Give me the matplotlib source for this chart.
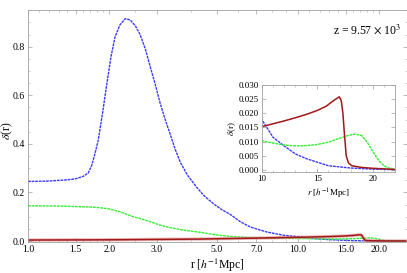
import numpy as np
import matplotlib
matplotlib.use('Agg')
import matplotlib.pyplot as plt
from matplotlib.ticker import FixedLocator, NullFormatter, MultipleLocator

plt.rcParams['font.family'] = ['Liberation Serif', 'DejaVu Serif']
plt.rcParams['mathtext.fontset'] = 'stix'

# blue profile
r_blue = [1.0, 1.2, 1.4, 1.5, 1.6, 1.67, 1.72, 1.77, 1.82, 1.89, 1.96, 2.03,
          2.1, 2.19, 2.29, 2.39, 2.5, 2.6, 2.72, 2.83, 2.95, 3.08, 3.22, 3.36,
          3.5, 3.66, 3.9, 4.22, 4.5, 4.84, 5.2, 5.6, 6.1, 6.64, 7.2, 7.67, 8.8,
          10.0, 11.0, 12.0, 13.0, 14.0, 16.0, 18.0, 20.0, 22.0, 25.0]
d_blue = [0.245, 0.247, 0.252, 0.256, 0.266, 0.28, 0.31, 0.36, 0.415, 0.53,
          0.65, 0.76, 0.84, 0.89, 0.915, 0.91, 0.885, 0.85, 0.79, 0.72, 0.65,
          0.57, 0.50, 0.44, 0.38, 0.325, 0.27, 0.22, 0.185, 0.155, 0.13, 0.11,
          0.08, 0.058, 0.046, 0.037, 0.024, 0.0177, 0.0115, 0.0085, 0.0057,
          0.004, 0.0015, 0.0007, 0.0003, 0.0001, 0.0]

# green profile
r_green = [1.0, 1.3, 1.7, 1.85, 2.0, 2.2, 2.45, 2.65, 2.83, 3.05, 3.27, 3.75,
           4.33, 5.0, 5.6, 6.64, 8.0, 10.0, 11.0, 12.0, 13.0, 14.0, 15.0,
           16.0, 17.0, 17.8, 18.4, 19.0, 19.5, 20.0, 20.5, 21.0, 21.5, 22.0,
           25.0]
d_green = [0.145, 0.144, 0.14, 0.137, 0.132, 0.12, 0.10, 0.09, 0.08, 0.067,
           0.058, 0.045, 0.036, 0.025, 0.019, 0.014, 0.0115, 0.0103, 0.0095,
           0.0088, 0.0085, 0.0086, 0.009, 0.0098, 0.0112, 0.0122, 0.0127,
           0.0121, 0.0098, 0.0065, 0.0035, 0.0015, 0.0006, 0.0002, 0.0]

# red profile
r_red = [1.0, 2.0, 4.3, 7.0, 10.0, 11.0, 12.0, 13.0, 14.0, 15.0, 15.8, 16.4,
         16.97, 17.15, 17.3, 17.45, 17.6, 17.8, 18.1, 19.0, 20.0, 22.0, 25.0]
d_red = [0.004, 0.005, 0.008, 0.012, 0.0153, 0.0163, 0.0173, 0.0184, 0.0196,
         0.021, 0.0225, 0.0243, 0.0258, 0.0245, 0.020, 0.012, 0.005, 0.0025,
         0.0015, 0.0009, 0.0006, 0.0002, 0.0001]

x_ticks = [1.0, 1.5, 2.0, 3.0, 5.0, 7.0, 10.0, 15.0, 20.0]
x_minor = [1.1, 1.2, 1.3, 1.4, 1.6, 1.7, 1.8, 1.9, 2.5, 4.0, 6.0, 8.0, 9.0,
           11, 12, 13, 14, 16, 17, 18, 19]
y_ticks = [0.0, 0.2, 0.4, 0.6, 0.8]
inset_x_ticks = [10, 15, 20]
inset_y_ticks = [0.0, 0.005, 0.010, 0.015, 0.020, 0.025, 0.030]

BLUE = '#3a3aff'
GREEN = '#33ee33'
RED = '#a01818'
SPINE = '#a0a0a0'


def draw_curves(ax, wide):
    ax.plot(r_blue, d_blue, color=BLUE, lw=1.0, ls=(0, (2, 0.6)))
    ax.plot(r_green, d_green, color=GREEN, lw=1.0, ls=(0, (2, 0.6)))
    if wide:
        ax.plot(r_red, d_red, color='#e08a8a', lw=2.4, alpha=0.6)
    ax.plot(r_red, d_red, color=RED, lw=1.1)


def style_axes(ax, size):
    for s in ax.spines.values():
        s.set_color(SPINE)
        s.set_linewidth(0.6)
    ax.tick_params(which='both', direction='in', top=True, right=True,
                   color=SPINE, labelsize=size, pad=2)
    ax.tick_params(which='major', length=3, width=0.5)
    ax.tick_params(which='minor', length=1.6, width=0.4)


fig = plt.figure(figsize=(4.07, 2.73), dpi=100)
ax = fig.add_axes([0.0688, 0.1136, 0.9312, 0.8498])
draw_curves(ax, True)
ax.set_xscale('log')
ax.set_xlim(1.0, 25.3)
ax.set_ylim(-0.004, 0.951)
ax.xaxis.set_major_locator(FixedLocator(x_ticks))
ax.set_xticklabels([f'{t:.1f}' for t in x_ticks])
ax.xaxis.set_minor_locator(FixedLocator(x_minor))
ax.xaxis.set_minor_formatter(NullFormatter())
ax.set_yticks(y_ticks)
ax.set_yticklabels([f'{t:.1f}' for t in y_ticks])
ax.yaxis.set_minor_locator(MultipleLocator(0.05))
style_axes(ax, 7)
ax.set_xlabel(r'r [$h^{-1}$Mpc]', fontsize=8.5)
ax.xaxis.set_label_coords(0.5, -0.062)
ax.set_ylabel(r'$\delta$(r)', fontsize=8.5)
ax.yaxis.set_label_coords(-0.033, 0.48)
ax.text(0.985, 0.945, r'z = 9.57 $\times$ 10$^3$', transform=ax.transAxes,
        ha='right', va='top', fontsize=8.5)

ins = fig.add_axes([0.6437, 0.37, 0.3268, 0.319])
draw_curves(ins, False)
ins.set_xlim(10, 22)
ins.set_ylim(-0.0007, 0.030)
ins.set_xticks(inset_x_ticks)
ins.xaxis.set_minor_locator(MultipleLocator(1))
ins.set_yticks(inset_y_ticks)
ins.set_yticklabels([f'{t:.3f}' for t in inset_y_ticks])
style_axes(ins, 6.5)
ins.set_xlabel(r'$r$ [$h^{-1}$Mpc]', fontsize=6.5, labelpad=3)
ins.set_ylabel(r'$\delta$(r)', fontsize=6.5, labelpad=1)

fig.savefig('out.png', dpi=100)
